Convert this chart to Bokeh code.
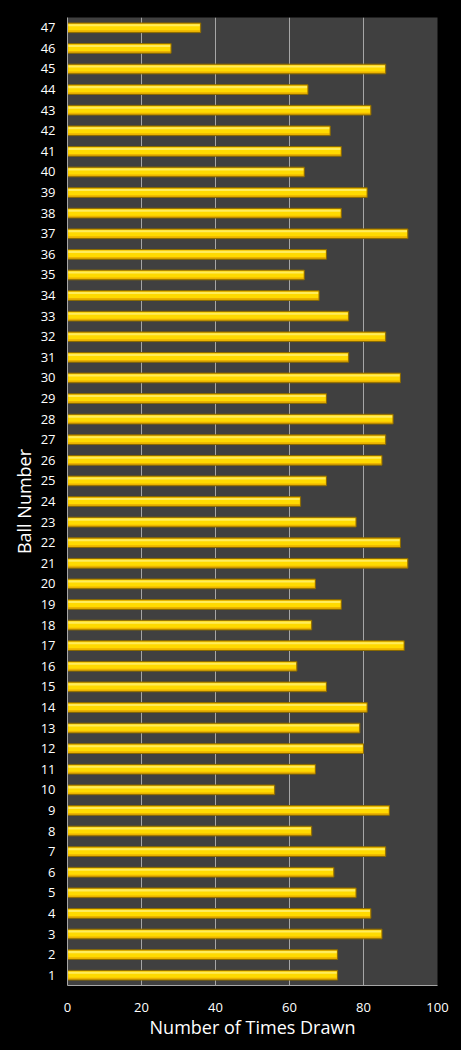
from bokeh.plotting import figure
from bokeh.models import FixedTicker, Range1d
from bokeh.embed import file_html
from bokeh.resources import INLINE

balls = list(range(1, 48))
times_drawn = [73, 73, 85, 82, 78, 72, 86, 66, 87, 56,
               67, 80, 79, 81, 70, 62, 91, 66, 74, 67,
               92, 90, 78, 63, 70, 85, 86, 88, 70, 90,
               76, 86, 76, 68, 64, 70, 92, 74, 81, 64,
               74, 71, 82, 65, 86, 28, 36]
x_ticks = [0, 20, 40, 60, 80, 100]

FONT = "Open Sans"

p = figure(width=445, height=1034, output_backend="svg", toolbar_location=None,
           x_range=Range1d(0, 100), y_range=Range1d(0.5, 47.5),
           min_border_left=58, min_border_right=16, min_border_top=9, min_border_bottom=57)

p.background_fill_color = "#404040"
p.border_fill_color = "#000000"
p.outline_line_color = None

# base bar (darker gold with border)
p.hbar(y=balls, left=0, right=times_drawn, height=0.47,
       fill_color="#EBB200", line_color="#8A6A00", line_width=1)
# bright middle band
inner_right = [v - 0.25 for v in times_drawn]
p.hbar(y=[b + 0.03 for b in balls], left=0.25, right=inner_right, height=0.31,
       fill_color="#FFDA00", line_color=None)
# top highlight
p.hbar(y=[b + 0.12 for b in balls], left=0.25, right=inner_right, height=0.10,
       fill_color="#FFEC5C", line_color=None)

p.xaxis.ticker = FixedTicker(ticks=x_ticks)
p.yaxis.ticker = FixedTicker(ticks=balls)

p.xgrid.ticker = FixedTicker(ticks=x_ticks)
p.xgrid.grid_line_color = "#A6A6A6"
p.xgrid.grid_line_width = 1
p.ygrid.grid_line_color = None

for ax in (p.xaxis[0], p.yaxis[0]):
    ax.axis_line_color = "#A6A6A6"
    ax.axis_line_width = 1
    ax.major_tick_line_color = None
    ax.minor_tick_line_color = None
    ax.major_tick_out = 0
    ax.major_tick_in = 0
    ax.minor_tick_out = 0
    ax.minor_tick_in = 0
    ax.major_label_text_color = "#FFFFFF"
    ax.major_label_text_font = FONT
    ax.major_label_text_font_size = "13px"
    ax.axis_label_text_color = "#FFFFFF"
    ax.axis_label_text_font = FONT
    ax.axis_label_text_font_size = "18px"
    ax.axis_label_text_font_style = "normal"

p.xaxis.axis_label = "Number of Times Drawn"
p.yaxis.axis_label = "Ball Number"
p.xaxis.major_label_standoff = 17
p.xaxis.axis_label_standoff = 0
p.yaxis.major_label_standoff = 12
p.yaxis.axis_label_standoff = 2

html = file_html(p, INLINE)
style = ("<style>html{background:#000000;height:auto;margin:0;padding:0;}"
         "body{background:#000000;height:auto;margin:8px;padding:0;}</style>")
html = html.replace("</head>", style + "</head>", 1)
open("out.html", "w").write(html)
